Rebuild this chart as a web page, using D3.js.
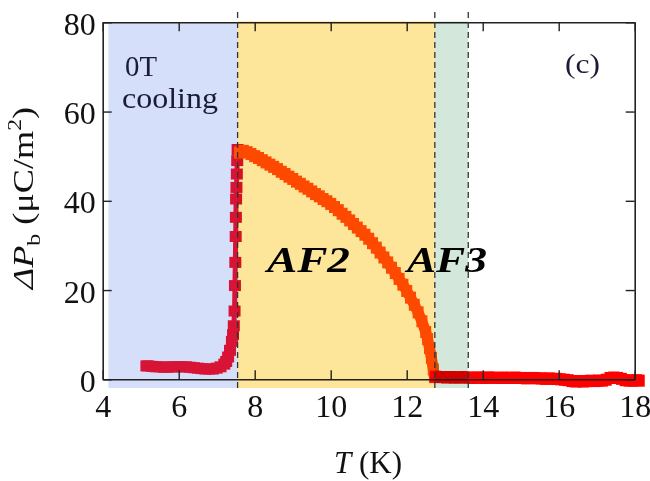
<!DOCTYPE html>
<html><head><meta charset="utf-8">
<script src="https://cdn.jsdelivr.net/npm/d3@7"></script>
<style>body{margin:0;background:#fff}svg text{font-family:"Liberation Serif","Times New Roman",serif}</style>
</head><body><svg id="c" width="650" height="481"></svg>
<script>
const xTicks=[4,6,8,10,12,14,16,18];
const yTicks=[0,20,40,60,80];
const phaseBounds=[4.15,7.55,12.74,13.62];
const dashedAt=[7.55,12.74,13.62];
// low-T data (0T cooling, below AF2)
const T_low=[5.15,5.2,5.3,5.4,5.5,5.6,5.7,5.8,5.9,6.0,6.1,6.2,6.3,6.4,6.5,6.6,6.7,6.8,6.9,7.0,7.1,7.2,7.25,7.3,7.35,7.4,7.43,7.45,7.47,7.48,7.49,7.5,7.505,7.51,7.52,7.53,7.54,7.55];
const P_low=[3.0,3.0,2.9,2.8,2.8,2.7,2.7,2.8,2.8,2.8,2.8,2.8,2.7,2.6,2.5,2.4,2.3,2.3,2.3,2.5,2.8,3.4,4.0,5.0,6.5,8.5,10,12,15.3,21,26.2,32,36.3,40.4,43,46,49,51.5];
// AF2 phase
const T_af2=[7.6,7.7,7.8,7.9,8.0,8.1,8.2,8.3,8.4,8.5,8.6,8.7,8.8,8.9,9.0,9.1,9.2,9.3,9.4,9.5,9.6,9.7,9.8,9.9,10.0,10.1,10.2,10.3,10.4,10.5,10.6,10.7,10.8,10.9,11.0,11.1,11.2,11.3,11.4,11.5,11.6,11.7,11.8,11.9,12.0,12.1,12.2,12.3,12.4,12.5,12.55,12.6,12.65,12.7,12.73];
const P_af2=[50.8,51.2,50.9,50.5,50.0,49.6,49.1,48.6,48.1,47.6,47.1,46.5,46.0,45.4,44.9,44.3,43.8,43.2,42.7,42.1,41.5,41.0,40.4,39.9,39.3,38.6,37.9,37.1,36.4,35.6,34.8,34.0,33.2,32.4,31.5,30.5,29.5,28.4,27.3,26.2,25.0,23.8,22.5,21.2,19.8,18.3,16.7,15.0,13.0,10.6,9.0,7.0,4.8,2.2,0.5];
// high-T data
const T_high=[12.75,12.85,12.95,13.05,13.15,13.25,13.35,13.45,13.55,13.65,13.75,13.85,13.95,14.05,14.15,14.25,14.35,14.45,14.55,14.65,14.75,14.85,14.95,15.05,15.15,15.25,15.35,15.45,15.55,15.65,15.75,15.85,15.95,16.05,16.15,16.25,16.35,16.45,16.55,16.65,16.75,16.85,16.95,17.05,17.15,17.25,17.35,17.45,17.55,17.65,17.75,17.85,17.95,18.05,18.12];
const P_high=[0.6,0.5,0.5,0.4,0.5,0.4,0.4,0.5,0.4,0.4,0.3,0.4,0.4,0.3,0.4,0.4,0.3,0.3,0.4,0.3,0.3,0.4,0.3,0.3,0.2,0.3,0.3,0.2,0.2,0.1,0.2,0.1,0.1,0.0,-0.1,-0.2,-0.4,-0.5,-0.4,-0.5,-0.4,-0.3,-0.4,-0.3,-0.3,-0.1,0.3,0.4,0.3,0.1,-0.2,-0.3,-0.3,-0.2,-0.3];

const svg=d3.select('#c');
const x=d3.scaleLinear().domain([4,18]).range([102.7,634.7]);
const y=d3.scaleLinear().domain([0,80]).range([379.3,22.3]);
const axisCol='#222';
const shadeBottom=388;
const SERIF='"Liberation Serif","Times New Roman",serif';

// blue shading (under data)
svg.append('rect').attr('x',x(phaseBounds[0])).attr('y',y(80)).attr('width',x(phaseBounds[1])-x(phaseBounds[0])).attr('height',shadeBottom-y(80)).attr('fill','#d5dffa');

function series(T,P,col,w,h,lw){
  const line=d3.line().x(d=>x(d[0])).y(d=>y(d[1]));
  svg.append('path').datum(T.map((t,i)=>[t,P[i]])).attr('d',line)
    .attr('fill','none').attr('stroke',col).attr('stroke-width',lw).attr('stroke-linejoin','round');
  svg.append('g').selectAll('rect').data(T).join('rect')
    .attr('x',(d)=>x(d)-w/2).attr('y',(d,i)=>y(P[i])-h/2)
    .attr('width',w).attr('height',h).attr('fill',col);
}
series(T_low,P_low,'#d81436',12,11,5);
series(T_af2,P_af2,'#ff5200',11,12,11);
series(T_high,P_high,'#ff0000',11,12,11);

// axes
const gB=svg.append('g').attr('transform',`translate(0,${y(0)})`)
  .call(d3.axisBottom(x).tickValues(xTicks).tickSizeInner(-9).tickSizeOuter(0).tickPadding(15).tickFormat(d3.format('d')));
const gT=svg.append('g').attr('transform',`translate(0,${y(80)})`)
  .call(d3.axisTop(x).tickValues(xTicks).tickSizeInner(-9).tickSizeOuter(0).tickFormat(''));
const gL=svg.append('g').attr('transform',`translate(${x(4)},0)`)
  .call(d3.axisLeft(y).tickValues(yTicks).tickSizeInner(-9).tickSizeOuter(0).tickPadding(7).tickFormat(d3.format('d')));
const gR=svg.append('g').attr('transform',`translate(${x(18)},0)`)
  .call(d3.axisRight(y).tickValues(yTicks).tickSizeInner(-9).tickSizeOuter(0).tickFormat(''));
[gB,gT,gL,gR].forEach(g=>{
  g.attr('font-family',SERIF);
  g.select('.domain').attr('stroke',axisCol).attr('stroke-width',1.6);
  g.selectAll('.tick line').attr('stroke',axisCol).attr('stroke-width',1.4);
  g.selectAll('.tick text').attr('font-size',32).attr('fill','#111').attr('font-family',SERIF);
});
gL.selectAll('.tick text').attr('dy','0.38em');

// yellow and green shading (multiply on top)
svg.append('rect').attr('x',x(phaseBounds[1])).attr('y',y(80)-1).attr('width',x(phaseBounds[2])-x(phaseBounds[1])).attr('height',shadeBottom-y(80)+1).attr('fill','#fde69a').style('mix-blend-mode','multiply');
svg.append('rect').attr('x',x(phaseBounds[2])).attr('y',y(80)-1).attr('width',x(phaseBounds[3])-x(phaseBounds[2])).attr('height',shadeBottom-y(80)+1).attr('fill','#d3e7db').style('mix-blend-mode','multiply');

// dashed boundaries
svg.append('g').selectAll('line').data(dashedAt).join('line')
  .attr('x1',d=>x(d)).attr('x2',d=>x(d)).attr('y1',12).attr('y2',shadeBottom)
  .attr('stroke','#333').attr('stroke-width',1.3).attr('stroke-dasharray','6,4');

// labels
function txt(xp,yp,s,str,len){
  const t=svg.append('text').attr('x',xp).attr('y',yp).attr('font-size',s).attr('font-family',SERIF).attr('fill','#1a1a3a').text(str);
  if(len) t.attr('textLength',len).attr('lengthAdjust','spacingAndGlyphs');
  return t;
}
txt(125,76,30,'0T',32);
txt(122,108,30,'cooling',96);
txt(565,73,28,'(c)',35);
txt(267,272,36,'AF2',83).attr('font-weight','bold').attr('font-style','italic').attr('fill','#000');
txt(407,272,36,'AF3',80).attr('font-weight','bold').attr('font-style','italic').attr('fill','#000');

const xt=svg.append('text').attr('x',368).attr('y',473).attr('text-anchor','middle').attr('font-size',31).attr('font-family',SERIF).attr('fill','#111');
xt.append('tspan').attr('font-style','italic').text('T');
xt.append('tspan').text(' (K)');

const yt=svg.append('text').attr('transform','translate(33,198) rotate(-90) scale(1.25,1)').attr('text-anchor','middle').attr('font-size',29).attr('font-family',SERIF).attr('fill','#111');
yt.append('tspan').attr('font-style','italic').text('ΔP');
yt.append('tspan').attr('font-size',19).attr('dy',7).text('b');
yt.append('tspan').attr('dy',-7).text(' (μC/m');
yt.append('tspan').attr('font-size',19).attr('dy',-12).text('2');
yt.append('tspan').attr('dy',12).text(')');
</script></body></html>
